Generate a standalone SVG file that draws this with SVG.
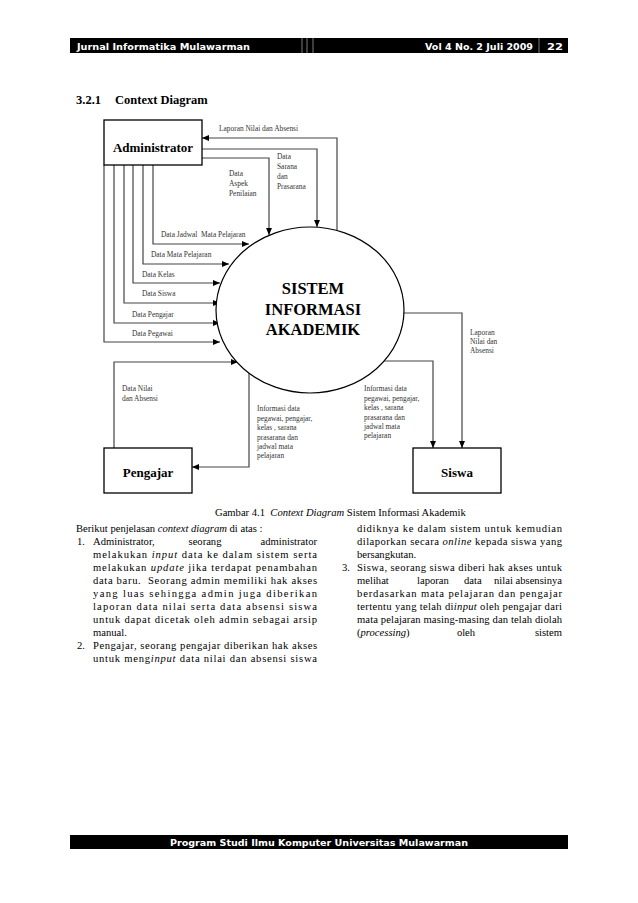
<svg xmlns="http://www.w3.org/2000/svg" width="638" height="903" viewBox="0 0 638 903">
<style>
.bar{fill:#000;}
.bt{font-family:"DejaVu Sans",Verdana,sans-serif;font-weight:bold;font-size:9.5px;fill:#fff;}
.sep{stroke:#999;stroke-width:0.8;}
.h{font-family:"Liberation Serif","Times New Roman",serif;font-weight:bold;font-size:12.5px;fill:#000;}
.box{fill:#fff;stroke:#000;stroke-width:1.3;}
.nl{font-family:"Liberation Serif","Times New Roman",serif;font-weight:bold;font-size:13px;fill:#000;text-anchor:middle;}
.cl{font-family:"Liberation Serif","Times New Roman",serif;font-weight:bold;font-size:16.5px;fill:#000;text-anchor:middle;}
.c{fill:none;stroke:#444;stroke-width:1.2;marker-end:url(#ah);}
.s{font-family:"Liberation Serif","Times New Roman",serif;font-size:7.4px;fill:#333;}
.p{font-family:"Liberation Serif","Times New Roman",serif;font-size:10.6px;fill:#000;}
.i{font-family:"Liberation Serif","Times New Roman",serif;font-style:italic;}
</style>
<defs>
<marker id="ah" viewBox="0 0 7 6" refX="7" refY="3" markerWidth="7" markerHeight="6" markerUnits="userSpaceOnUse" orient="auto">
<path d="M0,0 L7,3 L0,6 z" fill="#000"/>
</marker>
</defs>
<rect width="638" height="903" fill="#fff"/>

<g id="header">
<rect class="bar" x="70" y="38" width="498" height="15"/>
<line class="sep" x1="302" y1="38" x2="302" y2="53"/>
<line class="sep" x1="307" y1="38" x2="307" y2="53"/>
<line class="sep" x1="313" y1="38" x2="313" y2="53"/>
<line class="sep" x1="539" y1="38" x2="539" y2="53"/>
<text class="bt" x="77" y="49.5" textLength="173" lengthAdjust="spacingAndGlyphs">Jurnal Informatika Mulawarman</text>
<text class="bt" x="425" y="49.5" textLength="108" lengthAdjust="spacingAndGlyphs">Vol 4 No. 2 Juli 2009</text>
<text class="bt" x="547" y="49.5" textLength="16" lengthAdjust="spacingAndGlyphs">22</text>
</g>

<g id="heading">
<text class="h" x="76" y="104">3.2.1</text>
<text class="h" x="115" y="104">Context Diagram</text>
</g>

<g id="connectors">
<polyline class="c" points="337,230 337,138 202,138"/>
<polyline class="c" points="202,149 317,149 317,227"/>
<polyline class="c" points="202,158 269,158 269,235"/>
<polyline class="c" points="153,165 153,244 249,244"/>
<polyline class="c" points="143,165 143,264 229,264"/>
<polyline class="c" points="133,165 133,283 220,283"/>
<polyline class="c" points="124,165 124,303 220,303"/>
<polyline class="c" points="114,165 114,323 220,323"/>
<polyline class="c" points="104,165 104,342 220,342"/>
<polyline class="c" points="114,448 114,362 238,362"/>
<polyline class="c" points="249,373 249,467 192,467"/>
<polyline class="c" points="404,313 462,313 462,448"/>
<polyline class="c" points="383,361 433,361 433,448"/>
</g>

<g id="labels">
<text class="s" x="219" y="131">Laporan Nilai dan Absensi</text>
<text class="s" x="277" y="159">Data</text>
<text class="s" x="277" y="169">Sarana</text>
<text class="s" x="277" y="179">dan</text>
<text class="s" x="277" y="189">Prasarana</text>
<text class="s" x="229" y="176">Data</text>
<text class="s" x="229" y="186">Aspek</text>
<text class="s" x="229" y="196">Penilaian</text>
<text class="s" x="161" y="237">Data Jadwal&#160; Mata Pelajaran</text>
<text class="s" x="151" y="257">Data Mata Pelajaran</text>
<text class="s" x="142" y="277">Data Kelas</text>
<text class="s" x="142" y="296">Data Siswa</text>
<text class="s" x="132" y="317">Data Pengajar</text>
<text class="s" x="132" y="336">Data Pegawai</text>
<text class="s" x="470" y="335">Laporan</text>
<text class="s" x="470" y="344">Nilai dan</text>
<text class="s" x="470" y="353">Absensi</text>
<text class="s" x="122" y="391">Data Nilai</text>
<text class="s" x="122" y="401">dan Absensi</text>
<text class="s" x="257" y="411">Informasi data</text>
<text class="s" x="257" y="421">pegawai, pengajar,</text>
<text class="s" x="257" y="430">kelas , sarana</text>
<text class="s" x="257" y="440">prasarana dan</text>
<text class="s" x="257" y="449">jadwal mata</text>
<text class="s" x="257" y="458">pelajaran</text>
<text class="s" x="364" y="391">Informasi data</text>
<text class="s" x="364" y="401">pegawai, pengajar,</text>
<text class="s" x="364" y="410">kelas , sarana</text>
<text class="s" x="364" y="420">prasarana dan</text>
<text class="s" x="364" y="429">jadwal mata</text>
<text class="s" x="364" y="438">pelajaran</text>
</g>

<g id="administrator">
<rect class="box" x="104" y="120" width="98" height="45"/>
<text class="nl" x="153" y="151.5">Administrator</text>
</g>

<g id="sistem">
<ellipse cx="310" cy="310" rx="94" ry="83" fill="#fff" stroke="#000" stroke-width="1.2"/>
<text class="cl" x="313" y="294">SISTEM</text>
<text class="cl" x="313" y="315">INFORMASI</text>
<text class="cl" x="313" y="335">AKADEMIK</text>
</g>

<g id="pengajar">
<rect class="box" x="104" y="448" width="88" height="45"/>
<text class="nl" x="148" y="477">Pengajar</text>
</g>

<g id="siswa">
<rect class="box" x="413" y="448" width="88" height="45"/>
<text class="nl" x="457" y="477">Siswa</text>
</g>

<g id="caption">
<text class="p" x="215" y="516">Gambar 4.1&#160; <tspan class="i">Context Diagram</tspan> Sistem Informasi Akademik</text>
</g>

<g id="body-left">
<text class="p" x="76" y="532">Berikut penjelasan <tspan class="i">context diagram</tspan> di atas :</text>
<text class="p" x="77" y="545">1.</text>
<text class="p" x="93" y="545">Administrator,</text>
<text class="p" x="205" y="545" text-anchor="middle">seorang</text>
<text class="p" x="317" y="545" text-anchor="end">administrator</text>
<text class="p" x="93" y="558" textLength="224" lengthAdjust="spacing">melakukan <tspan class="i">input</tspan> data ke dalam sistem serta</text>
<text class="p" x="93" y="571" textLength="224" lengthAdjust="spacing">melakukan <tspan class="i">update</tspan> jika terdapat penambahan</text>
<text class="p" x="93" y="584" textLength="224" lengthAdjust="spacing">data baru.&#160; Seorang admin memiliki hak akses</text>
<text class="p" x="93" y="597" textLength="224" lengthAdjust="spacing">yang luas sehingga admin juga diberikan</text>
<text class="p" x="93" y="610" textLength="224" lengthAdjust="spacing">laporan data nilai serta data absensi siswa</text>
<text class="p" x="93" y="623" textLength="224" lengthAdjust="spacing">untuk dapat dicetak oleh admin sebagai arsip</text>
<text class="p" x="93" y="636">manual.</text>
<text class="p" x="77" y="649">2.</text>
<text class="p" x="93" y="649" textLength="224" lengthAdjust="spacing">Pengajar, seorang pengajar diberikan hak akses</text>
<text class="p" x="93" y="662" textLength="224" lengthAdjust="spacing">untuk meng<tspan class="i">input</tspan> data nilai dan absensi siswa</text>
</g>

<g id="body-right">
<text class="p" x="357" y="532" textLength="205" lengthAdjust="spacing">didiknya ke dalam sistem untuk kemudian</text>
<text class="p" x="357" y="545" textLength="205" lengthAdjust="spacing">dilaporkan secara <tspan class="i">online</tspan> kepada siswa yang</text>
<text class="p" x="357" y="558">bersangkutan.</text>
<text class="p" x="342" y="571">3.</text>
<text class="p" x="357" y="571" textLength="205" lengthAdjust="spacing">Siswa, seorang siswa diberi hak akses untuk</text>
<text class="p" x="357" y="584">melihat</text>
<text class="p" x="417" y="584">laporan</text>
<text class="p" x="464" y="584">data</text>
<text class="p" x="494" y="584">nilai</text>
<text class="p" x="562" y="584" text-anchor="end">absensinya</text>
<text class="p" x="357" y="597" textLength="205" lengthAdjust="spacing">berdasarkan mata pelajaran dan pengajar</text>
<text class="p" x="357" y="610" textLength="205" lengthAdjust="spacing">tertentu yang telah di<tspan class="i">input</tspan> oleh pengajar dari</text>
<text class="p" x="357" y="623" textLength="205" lengthAdjust="spacing">mata pelajaran masing-masing dan telah diolah</text>
<text class="p" x="357" y="636">(<tspan class="i">processing</tspan>)</text>
<text class="p" x="466" y="636" text-anchor="middle">oleh</text>
<text class="p" x="562" y="636" text-anchor="end">sistem</text>
</g>

<g id="footer">
<rect class="bar" x="70" y="835" width="498" height="14"/>
<text class="bt" x="319" y="846" text-anchor="middle" textLength="298" lengthAdjust="spacingAndGlyphs">Program Studi Ilmu Komputer Universitas Mulawarman</text>
</g>
</svg>
